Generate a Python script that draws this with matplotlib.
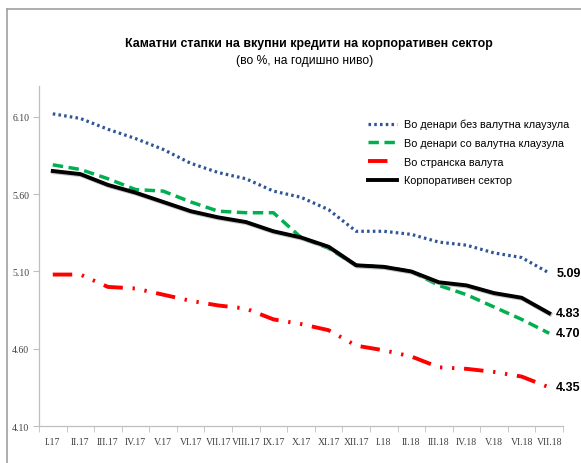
import matplotlib
matplotlib.use("Agg")
import matplotlib.pyplot as plt
from matplotlib.lines import Line2D
import numpy as np

months = ["I.17", "II.17", "III.17", "IV.17", "V.17", "VI.17", "VII.17",
          "VIII.17", "IX.17", "X.17", "XI.17", "XII.17", "I.18", "II.18",
          "III.18", "IV.18", "V.18", "VI.18", "VII.18"]

den_bez = [6.12, 6.09, 6.02, 5.96, 5.89, 5.80, 5.74, 5.70, 5.62, 5.58,
           5.50, 5.36, 5.36, 5.34, 5.29, 5.27, 5.22, 5.19, 5.09]
den_so = [5.79, 5.76, 5.70, 5.63, 5.62, 5.55, 5.49, 5.48, 5.48, 5.32,
          5.25, 5.14, 5.13, 5.10, 5.01, 4.95, 4.87, 4.79, 4.70]
stranska = [5.08, 5.08, 5.00, 4.99, 4.95, 4.91, 4.88, 4.86, 4.79, 4.76,
            4.72, 4.62, 4.59, 4.55, 4.48, 4.47, 4.45, 4.42, 4.35]
korporativen = [5.75, 5.73, 5.66, 5.61, 5.55, 5.49, 5.45, 5.42, 5.36, 5.32,
                5.26, 5.14, 5.13, 5.10, 5.03, 5.01, 4.96, 4.93, 4.83]

labels = ["Во денари без валутна клаузула", "Во денари со валутна клаузула",
          "Во странска валута", "Корпоративен сектор"]

sans = ["Liberation Sans", "DejaVu Sans"]
serif = ["Liberation Serif", "DejaVu Serif"]

fig = plt.figure(figsize=(5.81, 4.64), dpi=100)
ax = fig.add_axes([0.0671, 0.0797, 0.9019, 0.7328])

x = np.arange(len(months))
ax.plot(x, den_bez, color="#2F5597", lw=2.3, ls=(0, (0.8, 1.0)),
        label=labels[0])
ax.plot(x, den_so, color="#00B050", lw=2.5, ls=(0, (3.0, 1.6)),
        label=labels[1])
ax.plot(x, stranska, color="#FF0000", lw=2.8,
        ls=(0, (5.0, 2.5, 0.6, 2.5, 0.6, 2.5)), label=labels[2])
# light shadow under the total line
ax.plot(x + 0.03, np.array(korporativen) - 0.006, color="#A0A0A0", lw=3.2,
        alpha=0.6)
ax.plot(x, korporativen, color="black", lw=2.8, label=labels[3])

for s in [den_bez, korporativen, den_so, stranska]:
    ax.annotate(f"{s[-1]:.2f}", (x[-1], s[-1]), xytext=(5, 0),
                textcoords="offset points", va="center", ha="left",
                fontsize=9, fontweight="bold", family=sans)

ax.set_xlim(-0.5, len(months) - 0.5)
ax.set_ylim(4.1, 6.3)
ax.set_yticks([4.10, 4.60, 5.10, 5.60, 6.10])
ax.set_yticklabels([f"{v:.2f}" for v in [4.10, 4.60, 5.10, 5.60, 6.10]],
                   family=serif, fontsize=7, color="#404040")
ax.set_xticks(x)
ax.set_xticklabels(months, family=serif, fontsize=7, color="#404040")
ax.set_xticks(np.arange(-0.5, len(months)), minor=True)
ax.tick_params(axis="x", which="major", length=0, pad=8)
ax.tick_params(axis="x", which="minor", length=4, color="#BFBFBF",
               direction="out")
ax.tick_params(axis="y", length=4, color="#BFBFBF", direction="out", pad=3)

for side in ["top", "right"]:
    ax.spines[side].set_visible(False)
for side in ["left", "bottom"]:
    ax.spines[side].set_color("#BFBFBF")
    ax.spines[side].set_linewidth(0.9)

leg = ax.legend(loc="upper left", bbox_to_anchor=(0.61, 0.932),
                frameon=False, handlelength=2.6, handletextpad=0.7,
                labelspacing=0.8, prop={"family": sans, "size": 7.8})

fig.text(0.532, 0.906, "Каматни стапки на вкупни кредити на корпоративен сектор",
         ha="center", va="center", fontsize=8.9, fontweight="bold",
         family=sans)
fig.text(0.525, 0.868, "(во %, на годишно ниво)", ha="center", va="center",
         fontsize=8.7, family=sans)

# outer chart frame
fig.add_artist(Line2D([0.012, 0.012], [0.0, 0.978], color="#A0A0A0",
                      lw=1.2, transform=fig.transFigure))
fig.add_artist(Line2D([0.012, 1.0], [0.978, 0.978], color="#A0A0A0",
                      lw=1.2, transform=fig.transFigure))

fig.savefig("out.png", dpi=100)
